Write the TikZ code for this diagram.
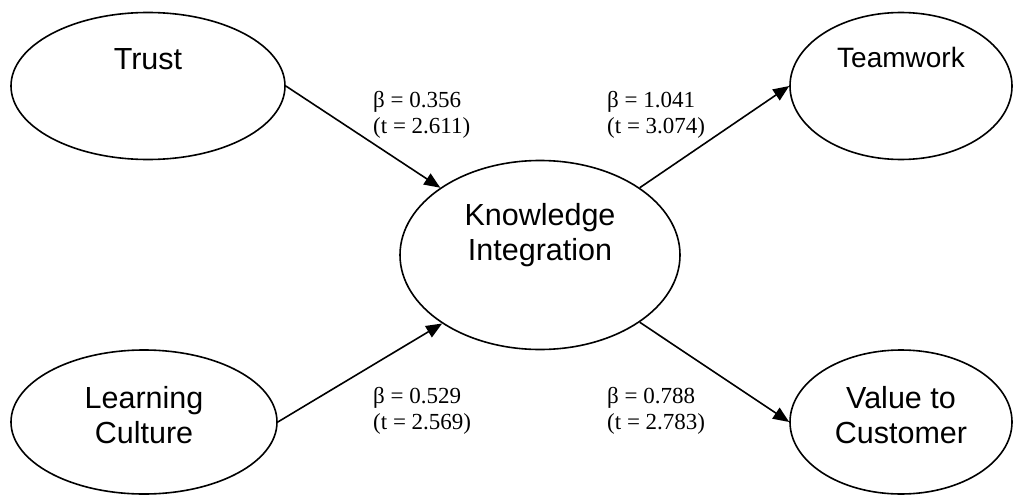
\documentclass[tikz,border=0pt]{standalone}
\usepackage{fontspec}
\setmainfont{Liberation Serif}
\newfontfamily\arialfont{Liberation Sans}
\usetikzlibrary{shapes.geometric,arrows.meta,positioning}

\begin{document}
\begin{tikzpicture}[x=1pt,y=-1pt,
  construct/.style={ellipse, draw, line width=1.6pt, inner sep=0pt,
    font=\arialfont\fontsize{30.5}{35}\selectfont},
  link/.style={line width=1.6pt, -{Triangle[length=16pt,width=13pt]}},
  coef/.style={anchor=base west, inner sep=0pt, font=\fontsize{23}{26}\selectfont}]
  \useasboundingbox (0,0) rectangle (1014,495);

  \node[construct, minimum width=274pt, minimum height=147pt, text height=0pt, text depth=32pt] (trust) at (148,86) {Trust};
  \node[construct, minimum width=266pt, minimum height=144pt, text height=42pt, text depth=0pt] (culture) at (144,422)
    {\begin{tabular}[b]{@{}c@{}}Learning\\Culture\end{tabular}};
  \node[construct, minimum width=280pt, minimum height=189pt, text height=10pt, text depth=0pt] (know) at (540,255)
    {\begin{tabular}[b]{@{}c@{}}Knowledge\\Integration\end{tabular}};
  \node[construct, minimum width=222pt, minimum height=147pt, text height=0pt, text depth=38pt,
    font=\arialfont\fontsize{28}{33}\selectfont] (team) at (901,86) {Teamwork};
  \node[construct, minimum width=222pt, minimum height=144pt, text height=42pt, text depth=0pt] (value) at (901,422)
    {\begin{tabular}[b]{@{}c@{}}Value to\\Customer\end{tabular}};

  \draw[link] (trust.east) -- (know.146);
  \draw[link] (culture.east) -- (know.215);
  \draw[link] (know.34) -- (team.west);
  \draw[link] (know.-34) -- (value.west);

  \node[coef] (tk) at (373,107) {\begin{tabular}[t]{@{}l@{}}β = 0.356\\(t = 2.611)\end{tabular}};
  \node[coef] (kt) at (607,107) {\begin{tabular}[t]{@{}l@{}}β = 1.041\\(t = 3.074)\end{tabular}};
  \node[coef] (ck) at (373,403) {\begin{tabular}[t]{@{}l@{}}β = 0.529\\(t = 2.569)\end{tabular}};
  \node[coef] (kv) at (607,403) {\begin{tabular}[t]{@{}l@{}}β = 0.788\\(t = 2.783)\end{tabular}};

\end{tikzpicture}
\end{document}
